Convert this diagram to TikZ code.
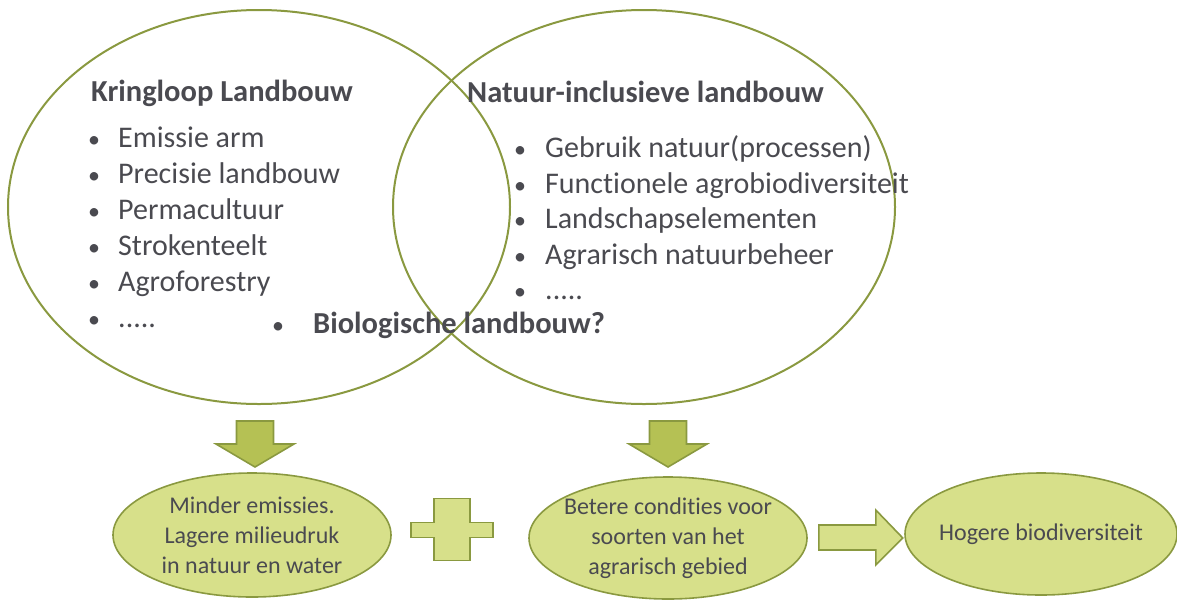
\documentclass[tikz,border=0pt]{standalone}
\usepackage{fontspec}
\setmainfont{Carlito}[Ligatures=NoCommon]
\usetikzlibrary{positioning,shapes.geometric,calc}
\definecolor{vennline}{RGB}{138,153,64}
\definecolor{resultfill}{RGB}{215,224,138}
\definecolor{downfill}{RGB}{181,193,84}
\definecolor{textgrey}{RGB}{74,74,80}
\newcommand{\moredots}{.....}
\tikzset{
  venn circle/.style={
    ellipse,
    draw=vennline,
    line width=2pt,
    minimum width=502pt,
    minimum height=394pt
  },
  result/.style={
    ellipse,
    draw=vennline,
    fill=resultfill,
    line width=1.6pt,
    inner xsep=-20pt,
    inner ysep=-10pt,
    align=center,
    text=textgrey,
    font=\fontsize{24}{30}\selectfont
  },
  heading/.style={
    anchor=base west,
    inner sep=0pt,
    text=textgrey,
    font=\fontsize{30.5}{34}\selectfont\bfseries
  },
  item/.style={
    anchor=base west,
    inner sep=0pt,
    text=textgrey,
    font=\fontsize{30}{34}\selectfont
  },
  dot/.style={
    anchor=base west,
    inner sep=0pt,
    text=textgrey,
    font=\fontsize{24}{30}\selectfont
  },
  block/.style={
    draw=vennline,
    line width=1.6pt,
    line join=miter
  }
}

\begin{document}
\begin{tikzpicture}[x=1pt,y=-1pt]
  \useasboundingbox (0,0) rectangle (1177,600);

  % Venn circles
  \node[venn circle] (kring) at (259,207) {};
  \node[venn circle] (natuur) at (644,207) {};

  % Kringloop list
  \node[heading] (kringtitle) at (91,101) {Kringloop Landbouw};
  \foreach \txt [count=\i] in {Emissie arm,Precisie landbouw,Permacultuur,Strokenteelt,Agroforestry,\moredots} {
    \node[item] (k\i) at (118,111+36*\i) {\txt};
    \node[dot] at (88,111+36*\i) {•};
  }

  % Natuur-inclusief list
  \node[heading] (natuurtitle) at (467,102) {Natuur-inclusieve landbouw};
  \foreach \txt [count=\i] in {Gebruik natuur(processen),Functionele agrobiodiversiteit,Landschapselementen,Agrarisch natuurbeheer,\moredots} {
    \node[item] (n\i) at (545,122+35.5*\i) {\txt};
    \node[dot] at (514,122+35.5*\i) {•};
  }

  % Overlap
  \node[heading] (bio) at (313,333) {Biologische landbouw?};
  \node[dot] at (272,333) {•};

  % Results
  \node[result, minimum width=278pt, minimum height=124pt] (emis) at (252,535)
    {Minder emissies.\\Lagere milieudruk\\in natuur en water};
  \node[result, minimum width=278pt, minimum height=122pt] (cond) at (668,538)
    {Betere condities voor\\soorten van het\\agrarisch gebied};
  \node[result, minimum width=272pt, minimum height=122pt] (bio2) at (1041,534)
    {Hogere biodiversiteit};

  % Down arrows
  \draw[block, fill=downfill] ($(kring.south)+(-4,16)$) ++(-18.5,0) -- ++(37,0) -- ++(0,23) -- ++(20.5,0)
    -- ++(-39,23) -- ++(-39,-23) -- ++(20.5,0) -- cycle;
  \draw[block, fill=downfill] ($(natuur.south)+(24,16)$) ++(-18.5,0) -- ++(37,0) -- ++(0,23) -- ++(20.5,0)
    -- ++(-39,23) -- ++(-39,-23) -- ++(20.5,0) -- cycle;

  % Plus
  \coordinate (plus) at ($(emis.east)!0.5!(cond.west)+(-8,-7)$);
  \draw[block, fill=resultfill] ($(plus)+(-18,-31)$) -- ++(36,0) -- ++(0,24) -- ++(23,0) -- ++(0,15)
    -- ++(-23,0) -- ++(0,23) -- ++(-36,0) -- ++(0,-23) -- ++(-23,0) -- ++(0,-15) -- ++(23,0) -- cycle;

  % Right arrow
  \draw[block, fill=resultfill] ($(cond.east)+(11,-13)$) -- ++(57,0) -- ++(0,-15) -- ++(27,28)
    -- ++(-27,27) -- ++(0,-15) -- ++(-57,0) -- cycle;
\end{tikzpicture}
\end{document}
